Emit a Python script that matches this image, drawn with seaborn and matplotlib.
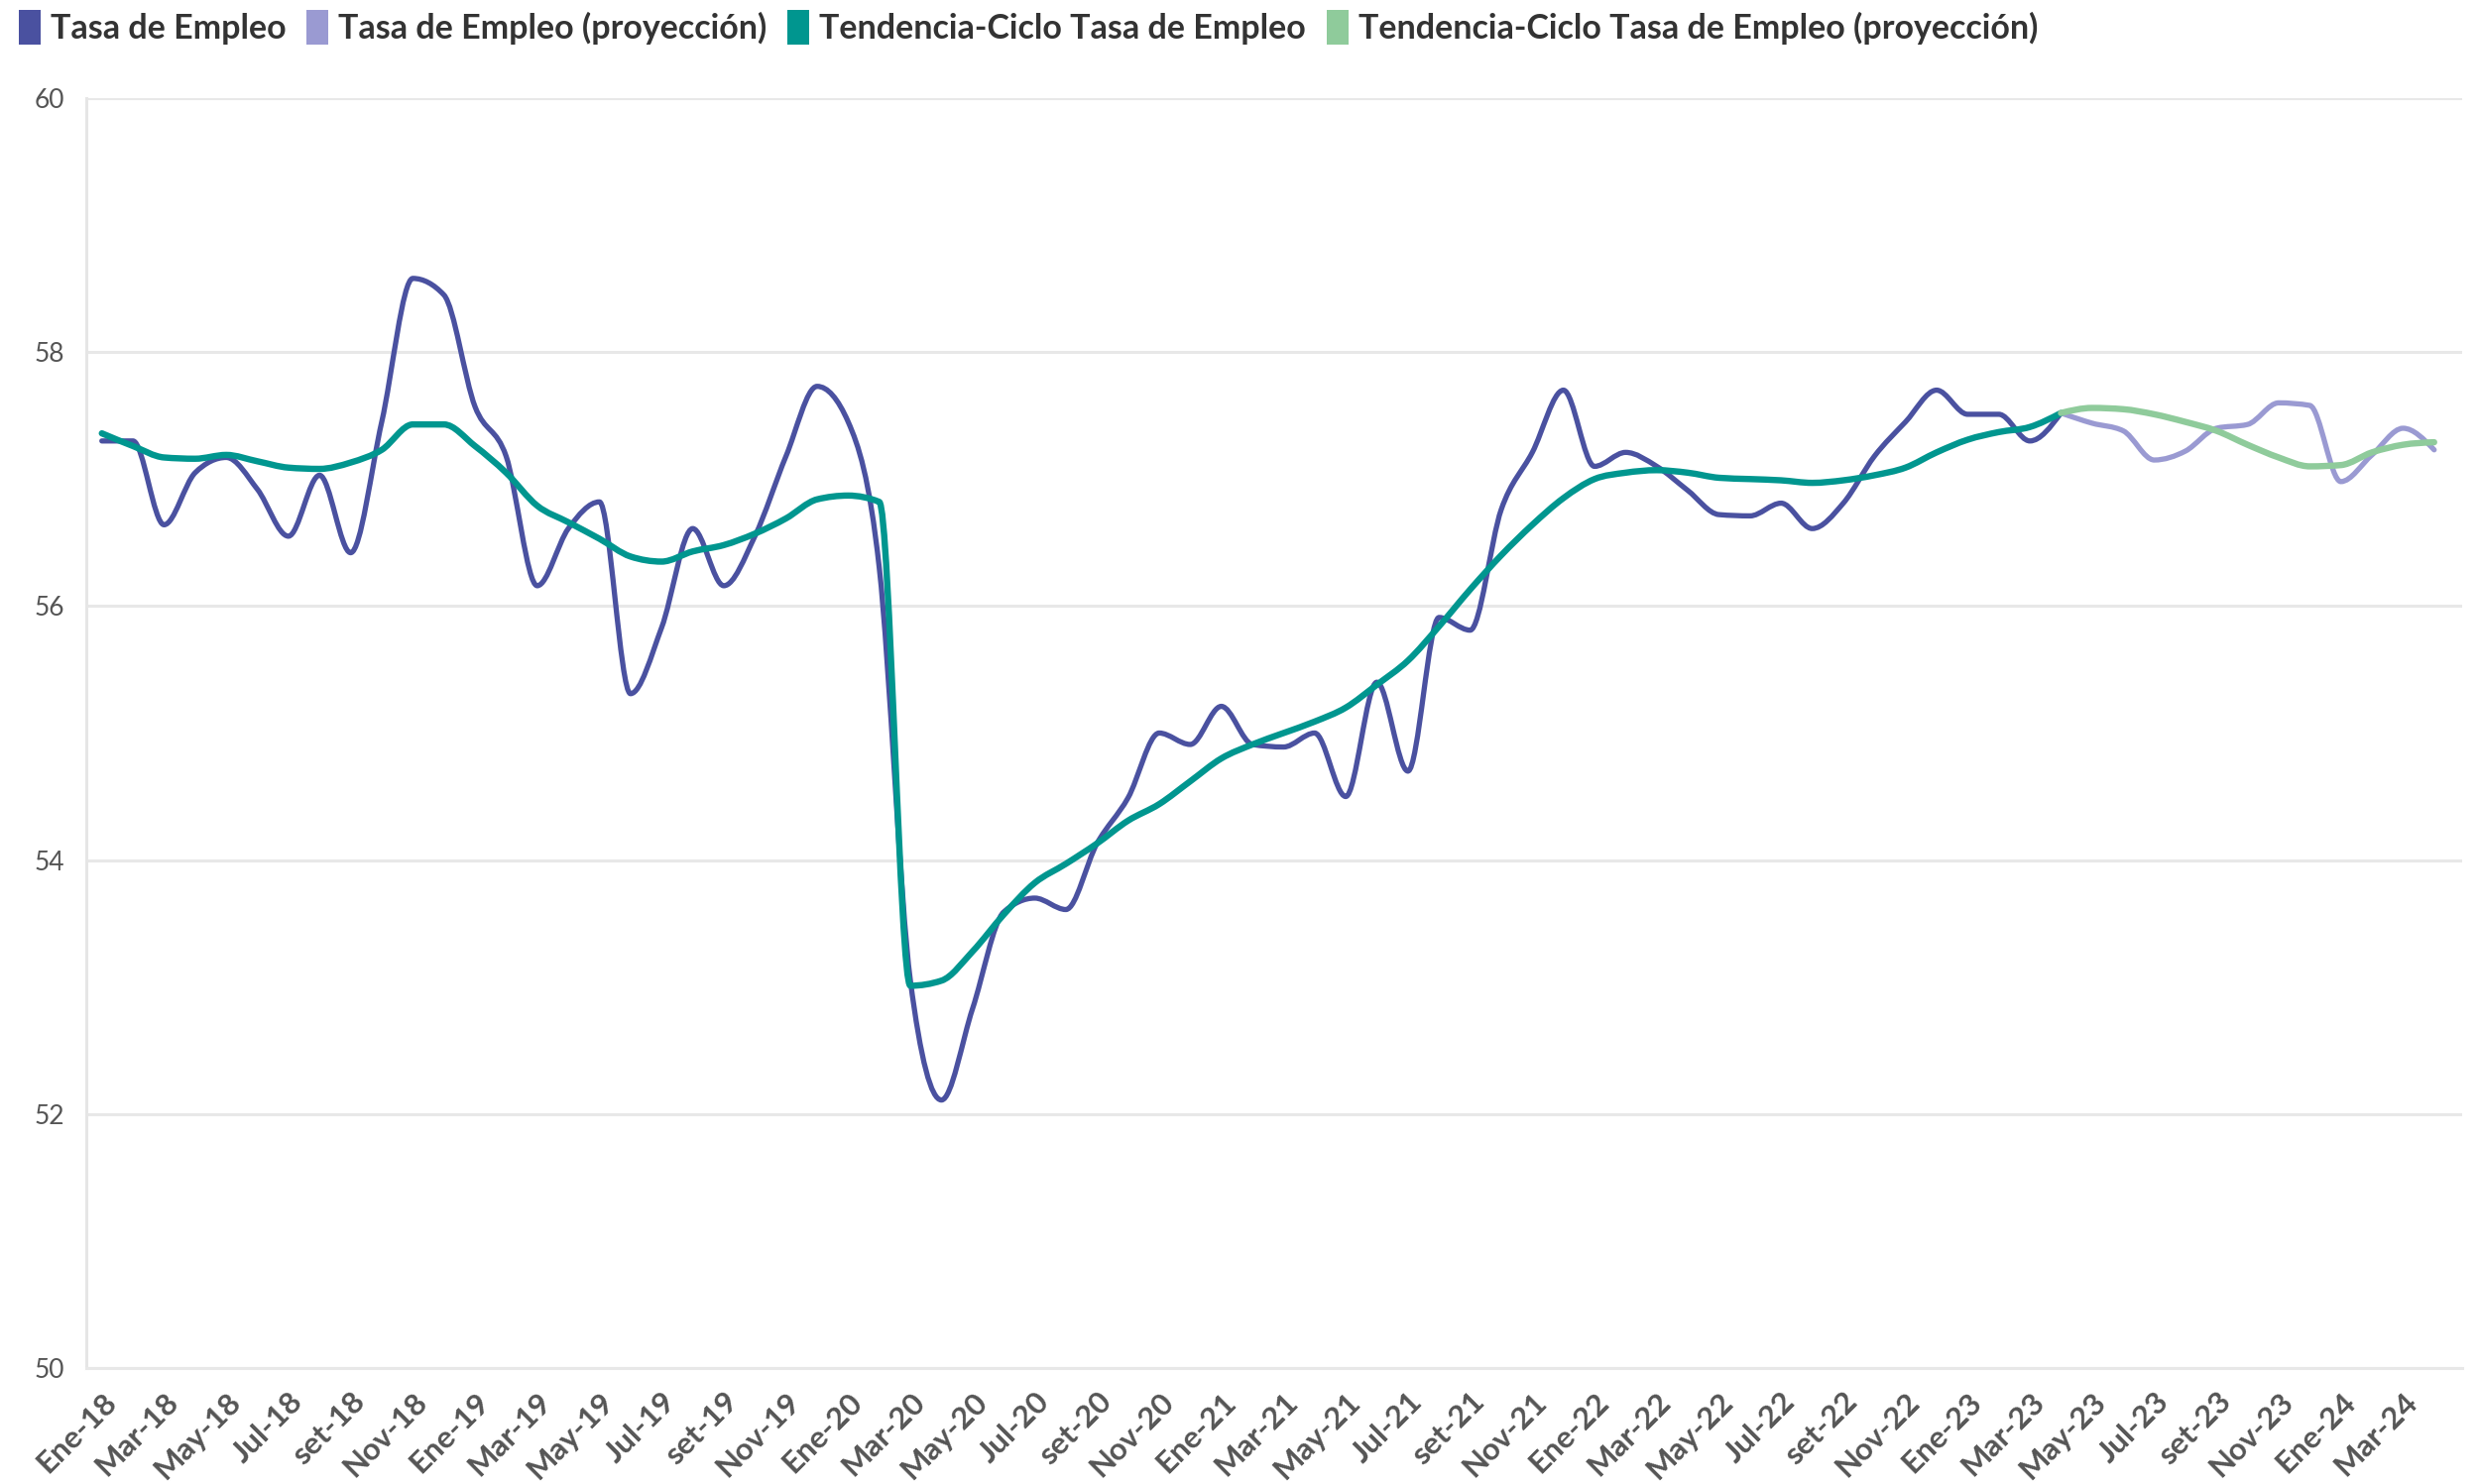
import numpy as np
import pandas as pd
import matplotlib.pyplot as plt
import seaborn as sns
from matplotlib.patches import Patch, PathPatch
from matplotlib.path import Path

# meses: 0 = Ene-18 ... 75 = Abr-24
meses_lbl = ["Ene", "Mar", "May", "Jul", "set", "Nov"]
tick_labels = [f"{m}-{a}" for a in range(18, 25) for m in meses_lbl][:38]

# Tasa de Empleo observada (Ene-18 a Abr-23)
tasa = [57.30, 57.30, 56.64, 57.05, 57.17, 56.92, 56.55, 57.03, 56.42, 57.45,
        58.58, 58.45, 57.57, 57.18, 56.16, 56.61, 56.82, 55.31, 55.83, 56.61,
        56.16, 56.55, 57.18, 57.73, 57.45, 56.30, 53.05, 52.11, 52.83, 53.59,
        53.70, 53.61, 54.13, 54.49, 55.00, 54.91, 55.21, 54.91, 54.89, 55.00,
        54.50, 55.40, 54.70, 55.91, 55.81, 56.76, 57.21, 57.70, 57.10, 57.21,
        57.10, 56.91, 56.72, 56.71, 56.81, 56.61, 56.81, 57.18, 57.45, 57.70,
        57.51, 57.51, 57.30, 57.52]

# Tendencia-Ciclo observada (Ene-18 a Abr-23)
tendencia = [57.36, 57.26, 57.17, 57.16, 57.19, 57.14, 57.09, 57.08, 57.13, 57.23,
             57.43, 57.43, 57.26, 57.05, 56.79, 56.66, 56.53, 56.39, 56.35, 56.43,
             56.48, 56.57, 56.69, 56.84, 56.87, 56.82, 53.01, 53.05, 53.28, 53.57,
             53.82, 53.97, 54.13, 54.31, 54.44, 54.62, 54.80, 54.91, 55.00, 55.09,
             55.20, 55.38, 55.57, 55.84, 56.13, 56.40, 56.64, 56.85, 57.00, 57.05,
             57.07, 57.05, 57.01, 57.00, 56.99, 56.97, 56.99, 57.03, 57.09, 57.21,
             57.31, 57.37, 57.41, 57.52]

# proyecciones (Abr-23 a Abr-24)
tasa_proy = [57.52, 57.44, 57.38, 57.15, 57.22, 57.40, 57.43, 57.60, 57.58, 56.98,
             57.19, 57.40, 57.23]
tend_proy = [57.52, 57.56, 57.55, 57.51, 57.45, 57.38, 57.27, 57.17, 57.10, 57.11,
             57.21, 57.27, 57.29]

col_tasa = "#4a51a0"
col_tasa_p = "#9a9ad2"
col_tend = "#00968f"
col_tend_p = "#8fcb9b"


def curva(x, y):
    # bezier monotono (como curveMonotoneX) que pasa por los puntos de la serie
    x = np.asarray(x, float)
    y = np.asarray(y, float)
    h = np.diff(x)
    s = np.diff(y) / h
    m = np.zeros_like(y)
    for i in range(1, len(y) - 1):
        p = (s[i - 1] * h[i] + s[i] * h[i - 1]) / (h[i - 1] + h[i])
        m[i] = (np.sign(s[i - 1]) + np.sign(s[i])) * min(abs(s[i - 1]), abs(s[i]), 0.5 * abs(p))
    m[0] = (3 * s[0] - m[1]) / 2
    m[-1] = (3 * s[-1] - m[-2]) / 2
    verts = [(x[0], y[0])]
    codes = [Path.MOVETO]
    for i in range(len(h)):
        d = h[i] / 3
        verts += [(x[i] + d, y[i] + m[i] * d), (x[i + 1] - d, y[i + 1] - m[i + 1] * d), (x[i + 1], y[i + 1])]
        codes += [Path.CURVE4] * 3
    return Path(verts, codes)


sns.set_theme(style="white")
plt.rcParams['font.family'] = ['Lato', 'DejaVu Sans']

fig = plt.figure(figsize=(25.01, 14.97), dpi=100)
ax = fig.add_axes([0.0348, 0.0782, 0.958, 0.8557])

obs = pd.DataFrame({"mes": np.arange(len(tasa)), "tasa": tasa, "tend": tendencia})
proy = pd.DataFrame({"mes": np.arange(len(tasa) - 1, len(tasa) - 1 + len(tasa_proy)),
                     "tasa": tasa_proy, "tend": tend_proy})

sns.lineplot(data=obs, x="mes", y="tasa", color=col_tasa, lw=3.8, ax=ax, zorder=3)
sns.lineplot(data=proy, x="mes", y="tasa", color=col_tasa_p, lw=3.8, ax=ax, zorder=3)
sns.lineplot(data=obs, x="mes", y="tend", color=col_tend, lw=4.6, ax=ax, zorder=4)
sns.lineplot(data=proy, x="mes", y="tend", color=col_tend_p, lw=4.6, ax=ax, zorder=4)

# suavizar las lineas de seaborn
for ln in list(ax.lines):
    ax.add_patch(PathPatch(curva(ln.get_xdata(), ln.get_ydata()), fill=False,
                           ec=ln.get_color(), lw=ln.get_linewidth(),
                           zorder=ln.get_zorder(), capstyle="round", joinstyle="round"))
    ln.set_visible(False)

ax.set_xlim(-0.5, 75.9)
ax.set_ylim(50, 60)
ax.set_yticks([50, 52, 54, 56, 58, 60])
ax.set_xticks(np.arange(76))
ax.set_xticklabels([tick_labels[i // 2] if i % 2 == 0 else "" for i in range(76)],
                   rotation=45, ha="right", rotation_mode="anchor",
                   fontsize=22.5, fontweight="bold", color="#555555")
ax.tick_params(axis="x", length=12, width=2, color="#e6e6e6", pad=2)
ax.tick_params(axis="y", length=12, width=2, color="#e6e6e6", labelsize=19,
               labelcolor="#555555", pad=4)
ax.grid(axis="y", color="#e8e8e8", lw=2.2)
ax.set_axisbelow(True)
for s in ["top", "right"]:
    ax.spines[s].set_visible(False)
ax.spines["left"].set_color("#e6e6e6")
ax.spines["left"].set_linewidth(2.2)
ax.spines["bottom"].set_color("#e8e8e8")
ax.spines["bottom"].set_linewidth(2.2)
ax.set_xlabel("")
ax.set_ylabel("")

handles = [Patch(facecolor=c, edgecolor="none") for c in [col_tasa, col_tasa_p, col_tend, col_tend_p]]
labels = ["Tasa de Empleo", "Tasa de Empleo (proyección)",
          "Tendencia-Ciclo Tasa de Empleo", "Tendencia-Ciclo Tasa de Empleo (proyección)"]
fig.legend(handles, labels, loc="upper left", bbox_to_anchor=(0.0075, 0.993), ncol=4,
           frameon=False, borderpad=0, borderaxespad=0, handlelength=0.65,
           handleheight=1.2, handletextpad=0.3, columnspacing=0.6,
           prop={"size": 24.5, "weight": "bold"}, labelcolor="#333333")

plt.savefig("out.png", dpi=100)
